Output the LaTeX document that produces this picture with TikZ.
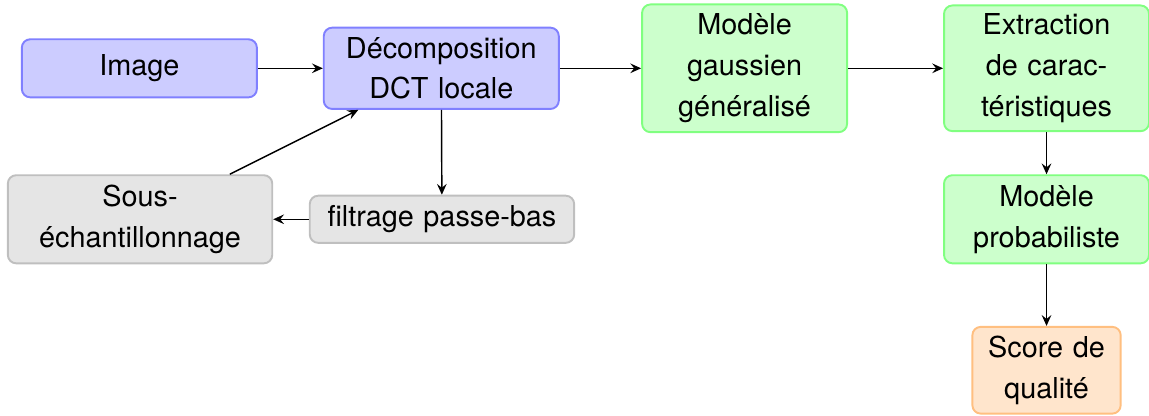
\documentclass[tikz,border=0pt]{standalone}
\usepackage{fontspec}
\setmainfont{TeX Gyre Heros}
\usetikzlibrary{arrows.meta}

\tikzset{
        boxbase/.style={draw,rounded corners=3.5pt,thick,align=center,inner sep=3pt,font=\fontsize{12}{17}\selectfont},
        bluebox/.style={boxbase,fill=blue!20,draw=blue!50,text width=3.23cm},
        greenbox/.style={boxbase,fill=green!20,draw=green!50,text width=2.79cm},
        graybox/.style={boxbase,fill=gray!20,draw=gray!50,text width=3.66cm},
        orangebox/.style={boxbase,fill=orange!20,draw=orange!50,text width=1.96cm},
        flow/.style={-{Stealth[length=4.5pt,width=4pt,inset=1.6pt]},semithick}
}

\begin{document}
\begin{tikzpicture}
        \useasboundingbox (0,0) rectangle (16.82,-6.076);
        \coordinate (img) at (2.04,-1.0);
        \coordinate (dct) at (6.46,-1.0);
        \coordinate (ggd) at (10.90,-1.0);
        \coordinate (feat) at (15.32,-1.0);
        \coordinate (prob) at (15.32,-3.21);
        \coordinate (score) at (15.32,-5.42);
        \coordinate (sous) at (2.05,-3.21);
        \coordinate (filt) at (6.47,-3.21);
        \node[bluebox,minimum height=0.85cm] (Image) at (img){Image};
        \node[bluebox,minimum height=1.19cm] (DCT) at (dct){Décomposition\\DCT locale};
        \node[greenbox,minimum height=1.87cm] (GGD) at (ggd){Modèle\\gaussien\\généralisé};
        \node[greenbox,minimum height=1.84cm] (Feat) at (feat){Extraction\\de carac-\\téristiques};
        \node[greenbox,minimum height=1.29cm] (Prob) at (prob){Modèle\\probabiliste};
        \node[orangebox,minimum height=1.27cm] (Score) at (score){Score de\\qualité};
        \node[graybox,minimum height=1.29cm] (Sous) at (sous){Sous-\\échantillonnage};
        \node[graybox,minimum height=0.69cm] (Filt) at (filt){filtrage passe-bas};
        \draw[flow] (Image) -- (DCT);
        \draw[flow] (DCT) -- (GGD);
        \draw[flow] (GGD) -- (Feat);
        \draw[flow] (Feat) -- (Prob);
        \draw[flow] (Prob) -- (Score);
        \draw[flow] (DCT) -- (Filt);
        \draw[flow] (Filt) -- (Sous);
        \draw[flow] (Sous) -- (DCT);
    \end{tikzpicture}
\end{document}
